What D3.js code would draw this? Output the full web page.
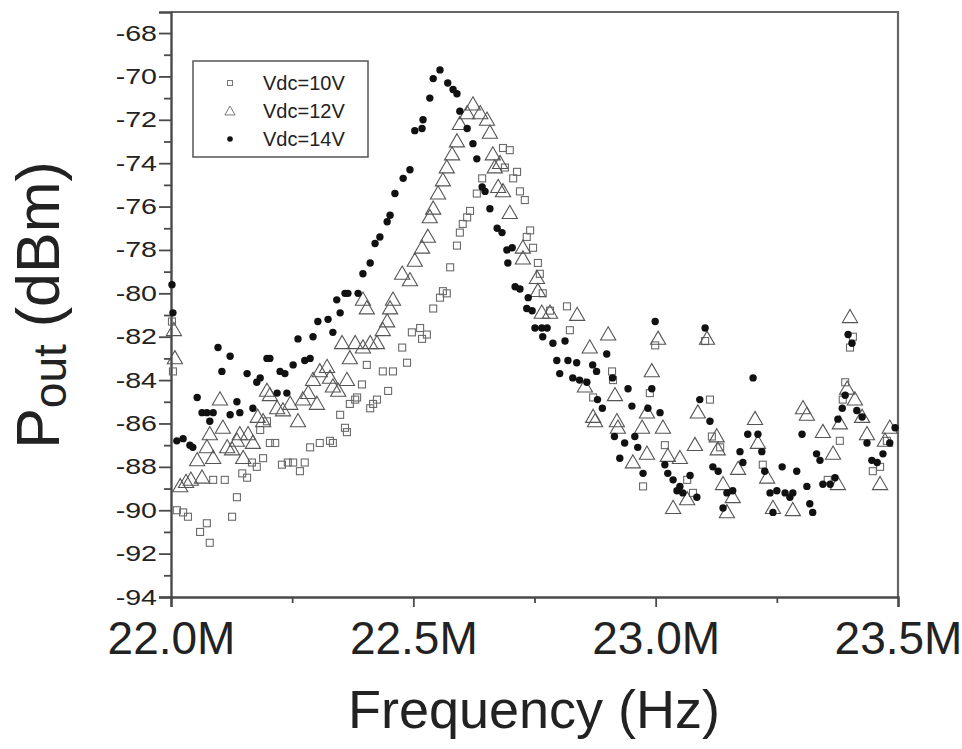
<!DOCTYPE html>
<html>
<head>
<meta charset="utf-8">
<script src="https://cdn.jsdelivr.net/npm/d3@7"></script>
<style>
  body { margin: 0; background: #fff; }
  svg { display: block; font-family: "Liberation Sans", Arial, sans-serif; }
</style>
</head>
<body>
<div id="chart"></div>
<script>
// frequency in MHz, output power in dBm
const vdc10 = [[22.002,-81.3],[22.004,-83.6],[22.012,-90.0],[22.025,-90.1],[22.035,-90.3],[22.060,-91.0],[22.074,-90.6],[22.080,-91.5],
  [22.087,-88.6],[22.111,-88.6],[22.126,-90.3],[22.136,-89.4],[22.147,-88.3],[22.157,-88.5],[22.167,-87.8],[22.177,-88.0],
  [22.184,-86.3],[22.190,-87.6],[22.198,-85.9],[22.204,-86.9],[22.215,-86.9],[22.229,-87.9],[22.241,-87.8],[22.252,-87.8],
  [22.266,-88.2],[22.276,-87.8],[22.287,-87.1],[22.307,-86.9],[22.328,-86.8],[22.334,-86.9],[22.349,-85.6],[22.359,-86.2],
  [22.363,-86.4],[22.369,-85.1],[22.380,-84.9],[22.384,-84.8],[22.394,-84.2],[22.404,-83.3],[22.411,-85.3],[22.417,-85.1],
  [22.425,-84.9],[22.437,-83.6],[22.448,-84.5],[22.458,-83.6],[22.477,-82.5],[22.487,-83.2],[22.497,-81.8],[22.514,-81.6],
  [22.518,-82.1],[22.528,-81.9],[22.541,-80.7],[22.555,-80.2],[22.561,-79.9],[22.569,-80.0],[22.576,-78.8],[22.590,-77.8],
  [22.596,-77.2],[22.602,-76.8],[22.611,-76.5],[22.617,-76.2],[22.631,-75.4],[22.642,-74.7],[22.685,-73.3],[22.689,-74.2],
  [22.699,-73.4],[22.706,-74.7],[22.714,-74.4],[22.720,-75.3],[22.730,-75.7],[22.734,-77.4],[22.741,-77.1],[22.747,-77.9],
  [22.757,-78.6],[22.761,-79.1],[22.767,-80.0],[22.782,-80.8],[22.817,-80.6],[22.823,-81.7],[22.871,-84.8],[22.910,-83.6],
  [22.912,-84.0],[22.974,-88.9],[22.988,-84.6],[22.999,-82.4],[23.019,-87.0],[23.065,-88.6],[23.077,-89.2],[23.102,-82.2],
  [23.112,-84.9],[23.116,-86.6],[23.133,-87.1],[23.221,-87.9],[23.355,-88.6],[23.380,-86.8],[23.386,-84.9],[23.391,-84.1],
  [23.401,-82.5],[23.407,-82.0],[23.448,-88.2],[23.463,-88.0],[23.477,-86.8]];

const vdc12 = [[22.006,-81.7],[22.008,-83.0],[22.019,-88.9],[22.031,-88.7],[22.041,-88.6],[22.054,-87.7],[22.064,-88.5],[22.074,-87.1],
  [22.080,-86.5],[22.087,-87.6],[22.101,-84.9],[22.107,-86.2],[22.116,-87.1],[22.126,-87.2],[22.136,-86.8],[22.142,-86.5],
  [22.149,-87.6],[22.159,-86.5],[22.169,-86.9],[22.179,-85.7],[22.190,-85.9],[22.198,-84.5],[22.204,-84.7],[22.219,-85.3],
  [22.231,-85.4],[22.246,-85.1],[22.262,-85.9],[22.272,-84.9],[22.283,-84.6],[22.293,-84.0],[22.301,-85.1],[22.307,-83.6],
  [22.322,-83.4],[22.328,-83.9],[22.334,-84.3],[22.345,-84.5],[22.353,-82.3],[22.363,-84.0],[22.369,-83.0],[22.380,-82.3],
  [22.396,-82.5],[22.411,-82.3],[22.396,-80.3],[22.404,-80.7],[22.425,-82.3],[22.437,-81.7],[22.446,-81.3],[22.452,-80.7],
  [22.458,-80.3],[22.477,-79.1],[22.493,-79.4],[22.503,-78.5],[22.518,-77.9],[22.530,-77.4],[22.534,-76.5],[22.541,-76.1],
  [22.551,-75.4],[22.561,-74.8],[22.569,-74.2],[22.580,-73.6],[22.590,-73.0],[22.596,-72.2],[22.611,-71.7],[22.623,-71.3],
  [22.638,-71.7],[22.652,-72.0],[22.658,-72.6],[22.664,-73.6],[22.668,-74.2],[22.675,-75.1],[22.679,-74.0],[22.685,-75.3],
  [22.699,-76.3],[22.726,-77.9],[22.726,-78.4],[22.755,-79.3],[22.757,-79.9],[22.765,-80.9],[22.782,-80.9],[22.838,-81.0],
  [22.854,-84.3],[22.864,-82.5],[22.871,-85.7],[22.902,-81.9],[22.875,-85.9],[22.916,-84.7],[22.920,-85.9],[22.922,-86.2],
  [22.953,-87.8],[22.972,-86.2],[22.982,-87.4],[22.982,-85.5],[22.992,-83.6],[23.005,-82.1],[23.015,-86.2],[23.025,-87.5],
  [23.036,-89.9],[23.050,-87.6],[23.065,-89.5],[23.081,-87.0],[23.087,-85.5],[23.106,-82.1],[23.126,-86.6],[23.128,-87.2],
  [23.139,-88.8],[23.147,-90.1],[23.159,-89.4],[23.170,-88.1],[23.205,-85.8],[23.211,-86.9],[23.230,-88.5],[23.242,-89.9],
  [23.283,-90.0],[23.304,-85.3],[23.312,-85.6],[23.345,-86.4],[23.366,-87.4],[23.376,-88.8],[23.380,-86.0],[23.395,-84.4],
  [23.401,-81.1],[23.411,-84.9],[23.426,-85.7],[23.436,-86.5],[23.463,-88.8],[23.473,-86.8],[23.483,-86.2]];

const vdc14 = [[22.002,-79.6],[22.004,-80.9],[22.012,-86.8],[22.025,-86.7],[22.039,-87.0],[22.045,-87.1],[22.054,-84.8],[22.064,-85.5],
  [22.074,-85.5],[22.080,-85.9],[22.087,-85.5],[22.097,-82.5],[22.105,-83.6],[22.122,-82.9],[22.122,-85.6],[22.136,-85.0],
  [22.142,-85.5],[22.157,-83.7],[22.169,-85.3],[22.177,-84.1],[22.184,-83.9],[22.198,-83.0],[22.204,-83.0],[22.219,-84.6],
  [22.239,-84.6],[22.225,-83.6],[22.235,-83.7],[22.252,-83.3],[22.262,-82.1],[22.276,-83.1],[22.287,-83.0],[22.293,-82.0],
  [22.303,-81.3],[22.324,-81.2],[22.334,-81.8],[22.342,-80.3],[22.349,-80.9],[22.359,-80.0],[22.365,-80.0],[22.386,-80.0],
  [22.396,-79.1],[22.411,-78.6],[22.421,-77.7],[22.431,-77.4],[22.446,-76.7],[22.452,-76.4],[22.462,-75.4],[22.479,-74.7],
  [22.493,-74.3],[22.503,-72.5],[22.518,-72.4],[22.520,-72.0],[22.534,-71.0],[22.541,-70.1],[22.555,-69.7],[22.571,-70.3],
  [22.582,-70.6],[22.590,-70.8],[22.596,-71.6],[22.611,-72.4],[22.623,-73.1],[22.631,-73.8],[22.642,-75.1],[22.648,-75.3],
  [22.658,-76.1],[22.673,-77.0],[22.683,-77.2],[22.693,-78.0],[22.704,-77.9],[22.695,-78.6],[22.710,-79.7],[22.720,-79.8],
  [22.737,-80.2],[22.734,-80.7],[22.745,-80.8],[22.751,-81.6],[22.765,-81.6],[22.776,-81.6],[22.767,-82.0],[22.788,-82.3],
  [22.813,-82.2],[22.796,-83.1],[22.819,-83.1],[22.802,-83.7],[22.837,-83.2],[22.829,-83.9],[22.843,-84.0],[22.858,-84.1],
  [22.870,-83.3],[22.878,-83.6],[22.880,-84.9],[22.890,-85.3],[22.899,-82.8],[22.911,-83.9],[22.915,-86.6],[22.926,-87.6],
  [22.936,-86.9],[22.943,-84.4],[22.951,-85.2],[22.957,-86.6],[22.963,-87.1],[22.974,-88.3],[22.984,-85.3],[22.992,-84.4],
  [22.999,-81.3],[23.009,-85.5],[23.019,-87.9],[23.025,-88.3],[23.036,-88.6],[23.044,-89.1],[23.050,-88.9],[23.056,-89.2],
  [23.071,-88.4],[23.085,-89.4],[23.091,-84.9],[23.102,-81.6],[23.112,-85.9],[23.118,-88.0],[23.129,-88.2],[23.139,-89.9],
  [23.147,-89.2],[23.159,-89.1],[23.174,-87.3],[23.180,-87.8],[23.190,-86.5],[23.201,-83.9],[23.211,-86.5],[23.219,-87.3],
  [23.225,-88.2],[23.236,-89.2],[23.242,-90.1],[23.250,-89.1],[23.261,-88.0],[23.267,-89.2],[23.277,-89.4],[23.283,-89.2],
  [23.291,-88.2],[23.302,-86.5],[23.312,-88.9],[23.318,-89.7],[23.324,-90.1],[23.332,-87.4],[23.339,-87.7],[23.345,-88.8],
  [23.360,-88.8],[23.370,-88.5],[23.376,-85.8],[23.385,-85.3],[23.391,-84.7],[23.397,-81.9],[23.405,-82.3],[23.415,-85.4],
  [23.426,-85.7],[23.436,-86.9],[23.446,-87.7],[23.457,-87.8],[23.469,-87.4],[23.483,-86.9],[23.494,-86.2]];

const xMajor = [22.0, 22.5, 23.0, 23.5];
const xMinor = [22.25, 22.75, 23.25];
const yMajor = d3.range(-94, -67, 2);
const yMinor = d3.range(-93, -67, 2);
const legendLabels = ["Vdc=10V", "Vdc=12V", "Vdc=14V"];

const W = 962, H = 749;
const plot = {left: 171, right: 898, top: 12, bottom: 597};

const svg = d3.select("#chart").append("svg")
  .attr("width", W).attr("height", H);

const x = d3.scaleLinear().domain([22.0, 23.5]).range([plot.left, plot.right]);
const y = d3.scaleLinear().domain([-94, -67.03]).range([plot.bottom, plot.top]);

const axisColor = "#4a4a4a";

// frame top/right
svg.append("path")
  .attr("d", `M${plot.left},${plot.top}H${plot.right}V${plot.bottom}`)
  .attr("fill", "none").attr("stroke", "#666").attr("stroke-width", 2.2);

// y axis (plain hyphen like the original, not unicode minus)
const gY = svg.append("g").attr("transform", `translate(${plot.left},0)`);
gY.call(d3.axisLeft(y).tickValues(yMajor).tickSize(12).tickPadding(3).tickFormat(d => String(d)));
gY.append("g").call(d3.axisLeft(y).tickValues(yMinor).tickSize(7).tickFormat(""))
  .select(".domain").remove();
gY.selectAll(".domain").attr("stroke", axisColor).attr("stroke-width", 2.4);
gY.selectAll(".tick line").attr("stroke", axisColor).attr("stroke-width", 1.8);
gY.selectAll(".tick text")
  .attr("fill", "#222").attr("font-size", 22)
  .attr("transform", "scale(1.3,1)")
  .attr("x", -14 / 1.3);

// x axis
const gX = svg.append("g").attr("transform", `translate(0,${plot.bottom})`);
gX.call(d3.axisBottom(x).tickValues(xMajor).tickSize(10).tickPadding(14).tickFormat(d => d.toFixed(1) + "M"));
gX.append("g").call(d3.axisBottom(x).tickValues(xMinor).tickSize(6).tickFormat(""))
  .select(".domain").remove();
gX.selectAll(".domain").attr("stroke", axisColor).attr("stroke-width", 2.4);
gX.selectAll(".tick line").attr("stroke", axisColor).attr("stroke-width", 1.8);
gX.selectAll(".tick text").attr("fill", "#222").attr("font-size", 46);

// markers
const tri = d3.symbol().type(d3.symbolTriangle).size(100);

svg.append("g").selectAll("rect")
  .data(vdc10).join("rect")
  .attr("x", d => x(d[0]) - 3.5).attr("y", d => y(d[1]) - 3.5)
  .attr("width", 7).attr("height", 7)
  .attr("fill", "none").attr("stroke", "#6a6a6a").attr("stroke-width", 1.1);

svg.append("g").selectAll("path")
  .data(vdc12).join("path")
  .attr("d", tri)
  .attr("transform", d => `translate(${x(d[0])},${y(d[1]) + 1})`)
  .attr("fill", "none").attr("stroke", "#555").attr("stroke-width", 1.1);

svg.append("g").selectAll("circle")
  .data(vdc14).join("circle")
  .attr("cx", d => x(d[0])).attr("cy", d => y(d[1]))
  .attr("r", 3.7).attr("fill", "#111");

// legend
const lg = svg.append("g");
lg.append("rect").attr("x", 193).attr("y", 61).attr("width", 175).attr("height", 96)
  .attr("fill", "#fff").attr("stroke", "#555").attr("stroke-width", 1.5);
legendLabels.forEach((t, i) => {
  const cy = 83 + i * 28;
  if (i === 0) {
    lg.append("rect").attr("x", 227.5).attr("y", cy - 2.5).attr("width", 5).attr("height", 5)
      .attr("fill", "none").attr("stroke", "#777").attr("stroke-width", 1);
  } else if (i === 1) {
    lg.append("path").attr("d", d3.symbol().type(d3.symbolTriangle).size(45))
      .attr("transform", `translate(230,${cy + 1})`)
      .attr("fill", "none").attr("stroke", "#777").attr("stroke-width", 1);
  } else {
    lg.append("circle").attr("cx", 230).attr("cy", cy).attr("r", 2.8).attr("fill", "#111");
  }
  lg.append("text").attr("x", 263).attr("y", cy).attr("dy", "0.36em")
    .attr("font-size", 20).attr("fill", "#222").text(t);
});

// axis titles
svg.append("text")
  .attr("x", 534).attr("y", 728)
  .attr("text-anchor", "middle").attr("font-size", 54).attr("fill", "#222")
  .text("Frequency (Hz)");

const yt = svg.append("text")
  .attr("transform", "translate(59,305) rotate(-90)")
  .attr("text-anchor", "middle").attr("font-size", 61).attr("fill", "#222");
yt.append("tspan").text("P");
yt.append("tspan").attr("font-size", 46).attr("dy", 7).text("out");
yt.append("tspan").attr("dy", -7).text(" (dBm)");
</script>
</body>
</html>
